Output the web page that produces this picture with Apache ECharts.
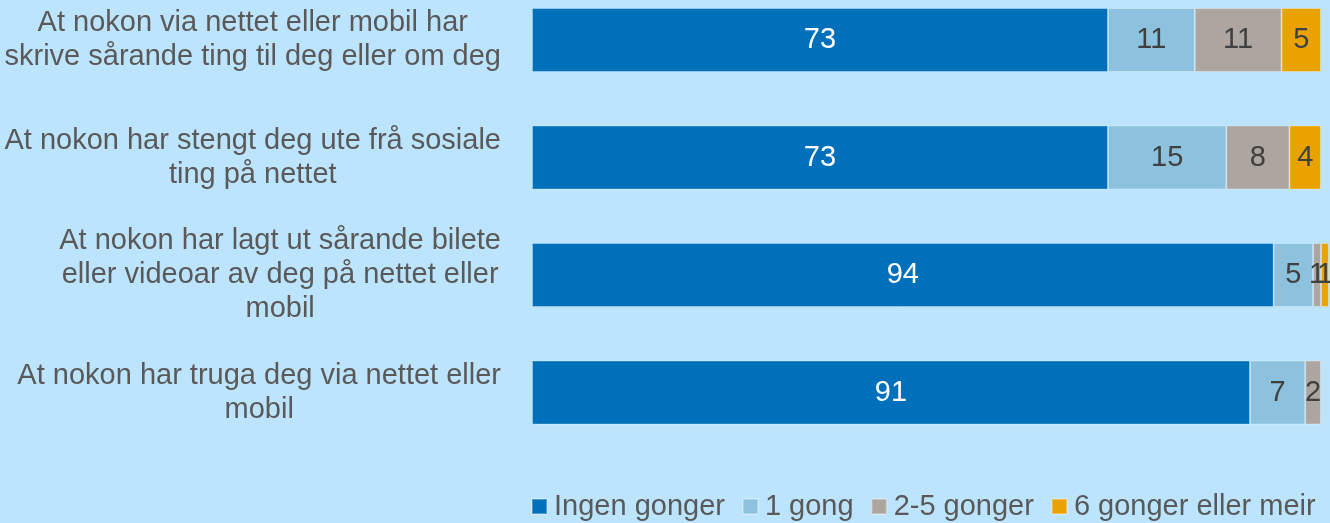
<!DOCTYPE html>
<html>
<head>
<meta charset="utf-8">
<script src="https://cdn.jsdelivr.net/npm/echarts@6/dist/echarts.min.js"></script>
<style>
  html, body { margin: 0; padding: 0; background: #BDE4FD; }
  #chart { width: 1330px; height: 523px; }
</style>
</head>
<body>
<div id="chart"></div>
<script>
// Survey items (each line break is a manual wrap in the axis label)
const categories = [
  'At nokon via nettet eller mobil har\nskrive sårande ting til deg eller om deg',
  'At nokon har stengt deg ute frå sosiale\nting på nettet',
  'At nokon har lagt ut sårande bilete\neller videoar av deg på nettet eller\nmobil',
  'At nokon har truga deg via nettet eller\nmobil'
];

// Share of respondents (%) per frequency group
const seriesNames = ['Ingen gonger', '1 gong', '2-5 gonger', '6 gonger eller meir'];
const ingenGonger = [73, 73, 94, 91];
const eittGong = [11, 15, 5, 7];
const toTilFemGonger = [11, 8, 1, 2];
const seksEllerMeir = [5, 4, 1, null];

const values = [ingenGonger, eittGong, toTilFemGonger, seksEllerMeir];
const colors = ['#0070BA', '#8CC2DE', '#ADA59F', '#E9A200'];
const labelColors = ['#FFFFFF', '#404040', '#404040', '#404040'];

const FONT = '"Liberation Sans", Arial, sans-serif';
const textGrey = '#595959';

const chart = echarts.init(document.getElementById('chart'), null, { renderer: 'canvas' });

chart.setOption({
  backgroundColor: '#BDE4FD',
  animation: false,
  textStyle: { fontFamily: FONT },
  // categories sit on the ticks (boundaryGap false): first row at the top edge, last at the bottom edge
  grid: { left: 532, right: 9, top: 40, height: 352.5, containLabel: false },
  xAxis: {
    type: 'value', min: 0, max: 100, show: false,
    splitLine: { show: false }
  },
  yAxis: {
    type: 'category',
    data: categories,
    inverse: true,
    boundaryGap: false,
    axisLine: { show: false },
    axisTick: { show: false },
    splitLine: { show: false },
    axisLabel: {
      margin: 31,
      align: 'right',
      formatter: function (v) {
        return v.split('\n').map(function (l) { return '{c|' + l + '}'; }).join('\n');
      },
      rich: {
        c: {
          align: 'center',
          fontSize: 29,
          lineHeight: 34,
          color: textGrey,
          fontFamily: FONT
        }
      }
    }
  },
  legend: {
    left: 526,
    top: 487,
    icon: 'rect',
    itemWidth: 15,
    itemHeight: 15,
    itemGap: 17,
    textStyle: { fontSize: 29, color: textGrey, fontFamily: FONT, padding: [0, 0, 0, 2] },
    data: seriesNames
  },
  series: values.map(function (arr, i) {
    return {
      name: seriesNames[i],
      type: 'bar',
      stack: 'total',
      data: arr,
      barWidth: 64,
      clip: false,
      itemStyle: {
        color: colors[i],
        borderColor: 'rgba(255,255,255,0.3)',
        borderWidth: 1
      },
      label: {
        show: true,
        position: 'inside',
        fontSize: 29,
        fontFamily: FONT,
        color: labelColors[i]
      }
    };
  })
});
</script>
</body>
</html>
